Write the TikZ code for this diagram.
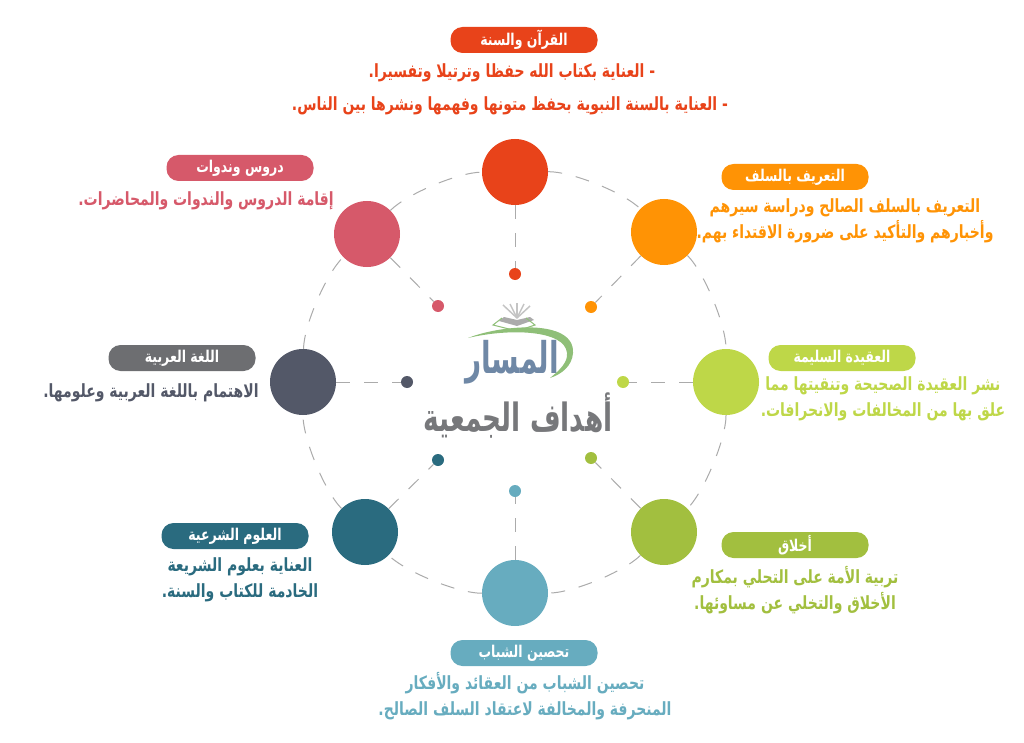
\documentclass[tikz,border=0pt]{standalone}
\usepackage{fontspec}
\newfontfamily\arabicfont[Script=Arabic]{DejaVu Sans}
\TeXXeTstate=1
\newcommand{\rtl}[1]{\scalebox{1}[1.3]{\beginR #1\endR}}
\definecolor{cred}{HTML}{E8431A}
\definecolor{corange}{HTML}{FF9305}
\definecolor{clime}{HTML}{BED748}
\definecolor{cgreen}{HTML}{A2BF3F}
\definecolor{cblue}{HTML}{67ACBF}
\definecolor{cteal}{HTML}{2A6B7F}
\definecolor{cdark}{HTML}{535868}
\definecolor{cpink}{HTML}{D6596A}
\definecolor{cpill}{HTML}{6D6E71}
\definecolor{cring}{HTML}{ABABAB}
\definecolor{cswoosh}{HTML}{8FBF78}
\definecolor{clogo}{HTML}{6F88A6}
\definecolor{ctitle}{HTML}{77787B}
\tikzset{
  bigdot/.style={circle,inner sep=0pt,minimum size=66pt},
  smalldot/.style={circle,inner sep=0pt,minimum size=12pt},
  pill/.style={rounded corners=12pt,inner sep=0pt,minimum width=147pt,minimum height=26pt,
    text=white,font=\arabicfont\bfseries\fontsize{12.5}{14}\selectfont},
  body/.style={align=center,inner sep=0pt,font=\arabicfont\bfseries\fontsize{14}{26}\selectfont},
  ringline/.style={draw=cring,line width=1pt,dash pattern=on 14pt off 14pt},
}
\begin{document}
\begin{tikzpicture}[x=1pt,y=-1pt]
  \useasboundingbox (0,0) rectangle (1024,743);
  \foreach \name/\x/\y/\col in {a/515/172/cred,b/664/232/corange,c/726/382/clime,d/664/532/cgreen,
    e/515/593/cblue,f/365/532/cteal,g/303/382/cdark,h/367/234/cpink}
    \node[bigdot,fill=\col] (n\name) at (\x,\y) {};
  \foreach \name/\x/\y/\col in {a/515/274/cred,b/591/307/corange,c/623/382/clime,d/591/458/cgreen,
    e/515/491/cblue,f/438/460/cteal,g/407/382/cdark,h/438/306/cpink}
    \node[smalldot,fill=\col] (s\name) at (\x,\y) {};
  \foreach \from/\to in {a/b,b/c,c/d,d/e,e/f,f/g,g/h,h/a}
    \draw[ringline] (n\from) to[bend left=22.5,looseness=0.6] (n\to);
  \foreach \name in {a,b,c,d,e,f,g,h}
    \draw[ringline] (n\name) -- (s\name);

  \node[pill,fill=cred] (pa) at (524,40) {\rtl{القرآن والسنة}};
  \node[body,text=cred] (ta) at (512,73) {\rtl{-  العناية بكتاب الله حفظا وترتيلا وتفسيرا.}};
  \node[body,text=cred] (tb) at (510,106) {\rtl{-  العناية بالسنة النبوية بحفظ متونها وفهمها ونشرها بين الناس.}};
  \node[pill,fill=corange] (pb) at (795,177) {\rtl{التعريف بالسلف}};
  \node[body,text=corange] (tc) at (845,221) {\rtl{التعريف بالسلف الصالح ودراسة سيرهم}\\\rtl{وأخبارهم والتأكيد على ضرورة الاقتداء بهم.}};
  \node[pill,fill=clime] (pc) at (842,358) {\rtl{العقيدة السليمة}};
  \node[body,text=clime] (td) at (883,399) {\rtl{نشر العقيدة الصحيحة وتنقيتها مما}\\\rtl{علق بها من المخالفات والانحرافات.}};
  \node[pill,fill=cgreen] (pd) at (795,545) {\rtl{أخلاق}};
  \node[body,text=cgreen] (te) at (795,590) {\rtl{تربية الأمة على التحلي بمكارم}\\\rtl{الأخلاق والتخلي عن مساوئها.}};
  \node[pill,fill=cblue] (pe) at (524,653) {\rtl{تحصين الشباب}};
  \node[body,text=cblue] (tf) at (525,696) {\rtl{تحصين الشباب من العقائد والأفكار}\\\rtl{المنحرفة والمخالفة لاعتقاد السلف الصالح.}};
  \node[pill,fill=cteal] (pf) at (235,536) {\rtl{العلوم الشرعية}};
  \node[body,text=cteal] (tg) at (240,580) {\rtl{العناية بعلوم الشريعة}\\\rtl{الخادمة للكتاب والسنة.}};
  \node[pill,fill=cpill] (pg) at (182,358) {\rtl{اللغة العربية}};
  \node[body,text=cdark] (th) at (151,393) {\rtl{الاهتمام باللغة العربية وعلومها.}};
  \node[pill,fill=cpink] (ph) at (240,168) {\rtl{دروس وندوات}};
  \node[body,text=cpink] (ti) at (206,201) {\rtl{إقامة الدروس والندوات والمحاضرات.}};

  % logo
  \fill[cswoosh] (468,338) .. controls (500,325) and (575,318) .. (573,353) .. controls (572,366) and (562,374) .. (550,378)
    .. controls (560,370) and (568,362) .. (567,353) .. controls (565,330) and (510,328) .. (468,338);
  \foreach \x/\y in {503/305,510/304,517/303,524/304,530/306}
    \draw[cring!70,line width=1.5pt] (517,318) -- (\x,\y);
  \fill[cring] (499,321) -- (517,326) -- (534,320) -- (530,317) -- (517,320) -- (504,317) -- cycle;
  \draw[cswoosh,line width=1pt] (502,318) -- (493,325) -- (517,331) -- (535,325) -- (526,318);
  \node[text=clogo,inner sep=0pt,font=\arabicfont\bfseries\fontsize{28}{30}\selectfont] (logo) at (512,362) {\scalebox{1}[1.2]{\rtl{المسار}}};
  \node[text=ctitle,inner sep=0pt,font=\arabicfont\bfseries\fontsize{30}{32}\selectfont] (title) at (518,416) {\scalebox{0.88}[1]{\rtl{أهداف الجمعية}}};
\end{tikzpicture}
\end{document}
